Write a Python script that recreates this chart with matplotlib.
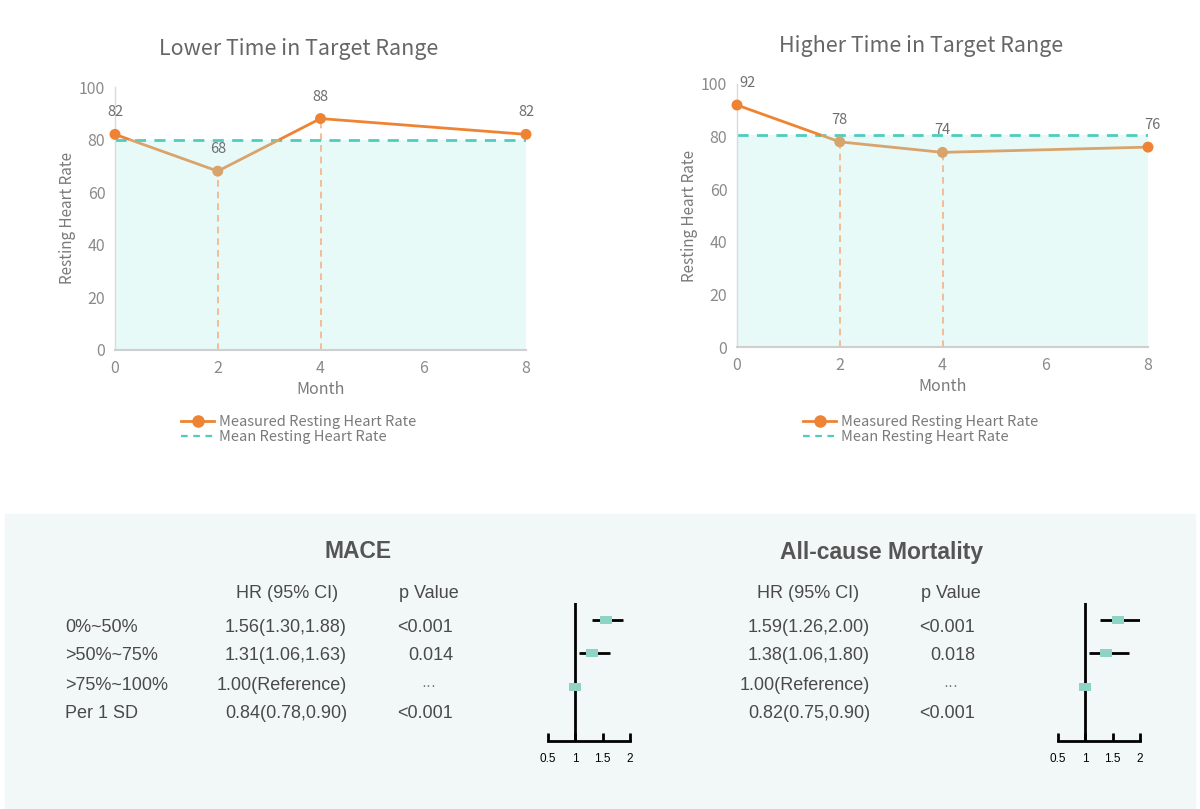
import numpy as np
import matplotlib
matplotlib.use("Agg")
import matplotlib.pyplot as plt
from matplotlib.patches import Rectangle
from matplotlib.lines import Line2D
from matplotlib.path import Path

# ---------------- data ----------------
months = [0, 2, 4, 8]
lower_hr = [82, 68, 88, 82]
higher_hr = [92, 78, 74, 76]
lower_mean = 80
higher_mean = 80.5
xticks_top = [0, 2, 4, 6, 8]
yticks_top = [0, 20, 40, 60, 80, 100]
drop_months = [2, 4]

groups = ["0%~50%", ">50%~75%", ">75%~100%", "Per 1 SD"]
mace_hr_text = ["1.56(1.30,1.88)", "1.31(1.06,1.63)", "1.00(Reference)", "0.84(0.78,0.90)"]
mace_p = ["<0.001", "0.014", "...", "<0.001"]
mace_est = [1.56, 1.31, 1.00]
mace_lo = [1.30, 1.06, 1.00]
mace_hi = [1.88, 1.63, 1.00]

acm_hr_text = ["1.59(1.26,2.00)", "1.38(1.06,1.80)", "1.00(Reference)", "0.82(0.75,0.90)"]
acm_p = ["<0.001", "0.018", "...", "<0.001"]
acm_est = [1.59, 1.38, 1.00]
acm_lo = [1.26, 1.06, 1.00]
acm_hi = [2.00, 1.80, 1.00]
forest_ticks = [0.5, 1, 1.5, 2]
forest_ticklabels = ["0.5", "1", "1.5", "2"]

# ---------------- style ----------------
W, H = 1200, 809
ORANGE = "#EE8433"
TAN = "#D9A36C"
TEAL = "#4ECDBD"
FILL = "#E7FAF8"
DROP = "#F4B384"
GRAY_TXT = "#6E6E6E"
TOP_FONT = ["Noto Sans CJK SC", "DejaVu Sans"]
TBL_FONT = ["Liberation Sans", "DejaVu Sans"]

fig = plt.figure(figsize=(W / 100, H / 100), dpi=100)
fig.patch.set_facecolor("white")


def fx(px):
    return px / W


def fy(py):
    return 1 - py / H


def line_chart(rect, x, y, mean, title, title_xy, leg_y, label_offsets, marker_colors):
    ax = fig.add_axes(rect)
    ax.set_xlim(0, 8)
    ax.set_ylim(0, 100)
    ax.set_facecolor("none")
    ax.fill_between([min(x), max(x)], 0, mean, color=FILL, zorder=0, lw=0)
    ax.axhline(mean, color=TEAL, lw=2, ls=(0, (4, 3)), zorder=2)
    for dm in drop_months:
        yv = y[x.index(dm)]
        ax.plot([dm, dm], [0, yv], color=DROP, lw=1.2, ls=(0, (4, 3)), zorder=1)
    for i in range(len(x) - 1):
        x0, x1, y0, y1 = x[i], x[i + 1], y[i], y[i + 1]
        if (y0 - mean) * (y1 - mean) < 0:
            xc = x0 + (mean - y0) * (x1 - x0) / (y1 - y0)
            ax.plot([x0, xc], [y0, mean], color=ORANGE if y0 > mean else TAN,
                    lw=2, zorder=3, solid_capstyle="butt")
            ax.plot([xc, x1], [mean, y1], color=ORANGE if y1 > mean else TAN,
                    lw=2, zorder=3, solid_capstyle="butt")
        else:
            ax.plot([x0, x1], [y0, y1], color=ORANGE if y0 > mean else TAN,
                    lw=2, zorder=3)
    ax.scatter(x, y, s=62, c=marker_colors, zorder=4, clip_on=False, lw=0)
    for xi, yi, off in zip(x, y, label_offsets):
        ax.annotate(str(yi), (xi, yi), xytext=off, textcoords="offset pixels",
                    ha="center", va="center", fontsize=10.5, color=GRAY_TXT,
                    family=TOP_FONT, zorder=5)
    for s in ["top", "right"]:
        ax.spines[s].set_visible(False)
    ax.spines["left"].set_color("#DADADA")
    ax.spines["bottom"].set_color("#CFCFCF")
    ax.spines["left"].set_linewidth(1)
    ax.spines["bottom"].set_linewidth(1.5)
    ax.set_xticks(xticks_top)
    ax.set_yticks(yticks_top)
    ax.tick_params(length=0, labelsize=11.5, labelcolor="#8A8A8A", pad=7)
    for lab in ax.get_xticklabels() + ax.get_yticklabels():
        lab.set_family(TOP_FONT)
    ax.set_xlabel("Month", fontsize=11.5, color="#7A7A7A", family=TOP_FONT, labelpad=3)
    ax.set_ylabel("Resting Heart Rate", fontsize=11, color="#7A7A7A", family=TOP_FONT, labelpad=2)
    fig.text(fx(title_xy[0]), fy(title_xy[1]), title, ha="center", va="center",
             fontsize=15.5, color="#666666", family=TOP_FONT, fontweight="light")
    handles = [Line2D([], [], color=ORANGE, lw=2, marker="o", markersize=8),
               Line2D([], [], color=TEAL, lw=1.6, ls=(0, (3, 2.5)))]
    leg = ax.legend(handles, ["Measured Resting Heart Rate", "Mean Resting Heart Rate"],
                    loc="upper left", bbox_transform=fig.transFigure,
                    bbox_to_anchor=(rect[0] + 0.16 * rect[2], fy(leg_y)), frameon=False,
                    prop={"family": TOP_FONT, "size": 10.5}, labelspacing=0.05,
                    handlelength=2.3, handletextpad=0.3, borderpad=0, borderaxespad=0)
    for t in leg.get_texts():
        t.set_color("#7A7A7A")
    return ax


col_l = [ORANGE if v > lower_mean else TAN for v in lower_hr]
col_h = [ORANGE if v > higher_mean else TAN for v in higher_hr]
col_h[-1] = ORANGE

line_chart([fx(115), fy(350), fx(526) - fx(115), fy(87) - fy(350)], months, lower_hr,
           lower_mean, "Lower Time in Target Range", (299, 49), 415,
           [(0, 22), (0, 22), (0, 22), (0, 22)], col_l)
line_chart([fx(737), fy(347), fx(1148) - fx(737), fy(84) - fy(347)], months, higher_hr,
           higher_mean, "Higher Time in Target Range", (921, 46), 415,
           [(10, 22), (0, 22), (0, 22), (4, 22)], col_h)

# ---------------- bottom panel ----------------
fig.patches.append(Rectangle((fx(5), fy(808)), fx(1195) - fx(5), fy(514) - fy(808),
                             transform=fig.transFigure, color="#F2F8F7", zorder=-5))

TXT = "#4A4A4A"
row_y = [627, 656, 685, 714]


def table(title, title_x, hr_right, p_right, p_header_x, hr_header_x, hr_texts, p_texts,
          show_groups):
    fig.text(fx(title_x), fy(552), title, ha="center", va="center",
             fontsize=16.5, fontweight="bold", color="#555555", family=TBL_FONT)
    fig.text(fx(hr_header_x), fy(593), "HR (95% CI)", ha="center", va="center",
             fontsize=13, color=TXT, family=TBL_FONT)
    fig.text(fx(p_header_x), fy(593), "p Value", ha="center", va="center",
             fontsize=13, color=TXT, family=TBL_FONT)
    for i, ry in enumerate(row_y):
        if show_groups:
            fig.text(fx(65), fy(ry), groups[i], ha="left", va="center",
                     fontsize=13, color=TXT, family=TBL_FONT)
        fig.text(fx(hr_right), fy(ry), hr_texts[i], ha="right", va="center",
                 fontsize=13, color=TXT, family=TBL_FONT)
        if p_texts[i] == "...":
            fig.text(fx(p_right - 24), fy(ry + 5), "\u00b7\u00b7\u00b7", ha="center",
                     va="baseline", fontsize=11, color="#777777", family=TBL_FONT)
        else:
            fig.text(fx(p_right), fy(ry), p_texts[i], ha="right", va="center",
                     fontsize=13, color=TXT, family=TBL_FONT)


table("MACE", 358, 347, 453, 429, 287, mace_hr_text, mace_p, True)
table("All-cause Mortality", 882, 870, 975, 951, 808, acm_hr_text, acm_p, False)


def forest(x_left, x_right, est, lo, hi):
    ax = fig.add_axes([fx(x_left), fy(741), fx(x_right) - fx(x_left), fy(603) - fy(741)])
    ax.set_xlim(0.5, 2)
    ax.set_ylim(3.62, -0.5)
    ax.set_facecolor("none")
    for s in ["top", "right", "left"]:
        ax.spines[s].set_visible(False)
    ax.spines["bottom"].set_linewidth(2)
    ax.spines["bottom"].set_color("black")
    ax.axvline(1, color="black", lw=2, zorder=1)
    rows = np.arange(len(est))
    ax.hlines(rows, lo, hi, color="black", lw=2, zorder=2)
    rect = Path([(-1.45, -1), (1.45, -1), (1.45, 1), (-1.45, 1), (-1.45, -1)])
    ax.scatter(est, rows, marker=rect, s=75, color="#8ED3C3", zorder=3, lw=0)
    ax.set_xticks(forest_ticks)
    ax.set_xticklabels(forest_ticklabels)
    ax.set_yticks([])
    ax.tick_params(axis="x", direction="in", length=6, width=2, labelsize=8.5,
                   pad=9, colors="black")
    for lab in ax.get_xticklabels():
        lab.set_family(TBL_FONT)
    return ax


forest(548, 630, mace_est, mace_lo, mace_hi)
forest(1058, 1140, acm_est, acm_lo, acm_hi)

fig.savefig("out.png", dpi=100, facecolor="white")
